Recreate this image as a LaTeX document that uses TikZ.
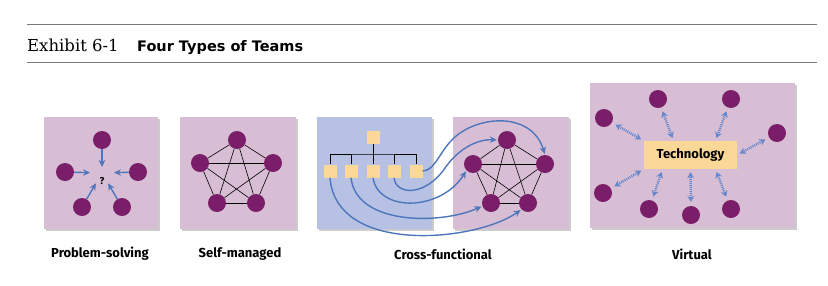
\documentclass[tikz,border=0pt]{standalone}
\usepackage{fontspec}
\newfontfamily\labelfont{Fira Sans}
\newfontfamily\headfont{DejaVu Sans}
\newfontfamily\exhfont{DejaVu Serif}
\usetikzlibrary{arrows.meta,positioning,calc,shadows}
\definecolor{memberc}{RGB}{122,30,106}
\definecolor{pinkbg}{RGB}{216,190,212}
\definecolor{bluebg}{RGB}{182,193,228}
\definecolor{unitc}{RGB}{252,216,152}
\definecolor{flowc}{RGB}{78,118,188}
\definecolor{linkc}{RGB}{100,135,205}
\definecolor{rulec}{RGB}{120,120,120}

\begin{document}
\begin{tikzpicture}[x=1pt,y=-1pt,>={Stealth[length=7pt,width=6.5pt]},
 panel/.style={fill=pinkbg,inner sep=0,minimum height=112pt,
   drop shadow={shadow xshift=2pt,shadow yshift=-2pt,fill=black!40}},
 mem/.style={circle,fill=memberc,inner sep=0,minimum size=18pt},
 unit/.style={fill=unitc,inner sep=0,minimum size=13pt},
 flow/.style={->,flowc,line width=1.4pt,shorten >=1pt},
 link/.style={linkc,line width=2.4pt,dash pattern=on 1pt off 1pt,
   {Stealth[length=6pt,width=7pt]}-{Stealth[length=6pt,width=7pt]},shorten <=4pt,shorten >=3pt},
 lbl/.style={font=\labelfont\bfseries\fontsize{13}{15}\selectfont}]
\useasboundingbox (0,0) rectangle (828,285);

% heading
\draw[rulec,line width=0.8pt] (27,24) -- (817,24);
\draw[rulec,line width=0.8pt] (27,62) -- (817,62);
\node[anchor=base west,inner sep=0,font=\exhfont\fontsize{16.5}{20}\selectfont] (exh) at (27,51) {Exhibit 6-1};
\node[anchor=base west,inner sep=0,font=\headfont\bfseries\fontsize{14.5}{17}\selectfont] (ttl) at (137,51) {Four Types of Teams};

% problem-solving
\node[panel,minimum width=114pt] (ps) at (101,173) {};
\node[mem] (ps1) at (102,140) {};
\node[mem] (ps2) at (65,172) {};
\node[mem] (ps3) at (138,172) {};
\node[mem] (ps4) at (82,207) {};
\node[mem] (ps5) at (122,207) {};
\coordinate (hub) at (102,173);
\node[inner sep=0,font=\labelfont\bfseries\fontsize{10}{12}\selectfont] (q) at (102,181) {?};
\foreach \i/\s in {1/6,2/12,3/12,4/12,5/12}
  \draw[flow,shorten >=\s pt] (ps\i) -- (hub);

% self-managed
\node[panel,minimum width=116pt] (sm) at (238,173) {};
\node[mem] (sm1) at (237,140) {};
\node[mem] (sm2) at (200,163) {};
\node[mem] (sm3) at (273,163) {};
\node[mem] (sm4) at (217,203) {};
\node[mem] (sm5) at (256,203) {};
\foreach \i in {1,...,4}{
  \pgfmathtruncatemacro\n{\i+1}
  \foreach \j in {\n,...,5}
    \draw[line width=0.6pt] (sm\i) -- (sm\j);
}

% cross-functional
\node[panel,fill=bluebg,minimum width=115pt] (cfa) at (374.5,173) {};
\node[panel,minimum width=116pt] (cfb) at (511,173) {};
\node[unit] (boss) at (373,137) {};
\coordinate (bar) at (373,154);
\foreach \i/\x in {1/330,2/351,3/373,4/394,5/416}
  \node[unit] (u\i) at (\x,171) {};
\draw[line width=0.6pt] (boss.south) -- (bar);
\draw[line width=0.6pt] (u1.north) |- (bar) -| (u5.north);
\foreach \i in {2,3,4}
  \draw[line width=0.6pt] (u\i.north) -- (u\i.north |- bar);
\node[mem] (cf1) at (507,140) {};
\node[mem] (cf2) at (473,164) {};
\node[mem] (cf3) at (545,164) {};
\node[mem] (cf4) at (491,203) {};
\node[mem] (cf5) at (528,203) {};
\foreach \i in {1,...,4}{
  \pgfmathtruncatemacro\n{\i+1}
  \foreach \j in {\n,...,5}
    \draw[line width=0.6pt] (cf\i) -- (cf\j);
}
\draw[flow] (u5.east) .. controls (435,171) and (440,150) .. (455,137)
  .. controls (480,115) and (532,112) .. (cf3.north);
\draw[flow] (u4.south) .. controls (396,196) and (426,196) .. (445,168)
  .. controls (459,148) and (478,139) .. (cf1.west);
\draw[flow] (u3.south) .. controls (378,212) and (440,212) .. (cf2.south west);
\draw[flow] (u2.south) .. controls (356,225) and (440,225) .. (cf4.200);
\draw[flow] (u1.south) .. controls (336,255) and (475,242) .. (cf5.225);

% virtual
\node[panel,minimum width=205pt,minimum height=145pt] (vt) at (692.5,155.5) {};
\node[fill=unitc,minimum width=93pt,minimum height=28pt,inner sep=0,
  font=\labelfont\bfseries\fontsize{13}{15}\selectfont] (tech) at (690.5,155) {Technology};
\node[mem] (v1) at (604,118) {};
\node[mem] (v2) at (658,99) {};
\node[mem] (v3) at (731,99) {};
\node[mem] (v4) at (777,133) {};
\node[mem] (v5) at (603,193) {};
\node[mem] (v6) at (649,209) {};
\node[mem] (v7) at (691,215) {};
\node[mem] (v8) at (731,209) {};
\draw[link] (v1) -- (tech.north west);
\draw[link] (v2) -- ([xshift=-17pt]tech.north);
\draw[link] (v3) -- ([xshift=25pt]tech.north);
\draw[link] (v4) -- (tech.east);
\draw[link] (v5) -- (tech.south west);
\draw[link] (v6) -- ([xshift=-28pt]tech.south);
\draw[link] (v7) -- (tech.south);
\draw[link] (v8) -- ([xshift=25pt]tech.south);

% labels
\node[lbl] (lps) at (100,254) {Problem-solving};
\node[lbl] (lsm) at (240,254) {Self-managed};
\node[lbl] (lcf) at (443,254) {Cross-functional};
\node[lbl] (lvt) at (692,254) {Virtual};
\end{tikzpicture}
\end{document}
